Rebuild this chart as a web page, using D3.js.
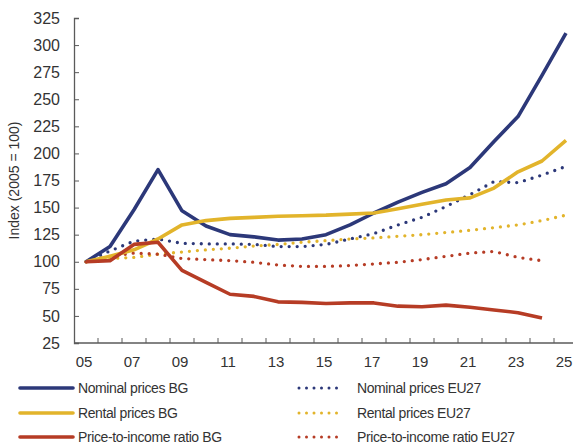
<!DOCTYPE html>
<html>
<head>
<meta charset="utf-8">
<script src="https://cdn.jsdelivr.net/npm/d3@7"></script>
<style>
  body { margin: 0; background: #fff; }
  svg { display: block; font-family: "Liberation Sans", Arial, sans-serif; }
</style>
</head>
<body>
<div id="chart"></div>
<script>
// data (index, 2005 = 100)
var years = d3.range(2005, 2026);
var tickYears = [2005, 2007, 2009, 2011, 2013, 2015, 2017, 2019, 2021, 2023, 2025];
var yTicks = [25, 50, 75, 100, 125, 150, 175, 200, 225, 250, 275, 300, 325];

var nominalBG = [100, 114, 148, 185, 147, 133, 125, 123, 120, 121, 125, 134, 145, 155, 164, 172, 187, 211, 234, 272, 311];
var rentalBG = [100, 105, 111, 121, 134, 138, 140, 141, 142, 142.5, 143, 144, 145, 149, 153, 157, 159, 168, 183, 193, 212];
var ptiBG = [100, 101, 116, 118, 92, 81, 70, 68, 63, 62.5, 61.5, 62, 62, 59, 58.5, 60, 58, 55.5, 53, 48];
var nominalEU = [100, 110, 119, 121, 117, 116.5, 116.5, 116, 114, 114, 116, 121, 126, 134, 141, 151, 162, 174, 173, 180, 188];
var rentalEU = [100, 103, 104, 107, 109, 111, 112.5, 114.5, 116, 118, 119.5, 121, 122, 123.5, 125, 127, 129, 131.5, 134, 138, 143];
var ptiEU = [100, 105, 108, 107, 103, 102, 101, 99.5, 97, 95.7, 95.7, 96.5, 98, 99.5, 102, 105, 108, 109.5, 104, 101];

var navy = "#2c3879", gold = "#e2b42b", red = "#b63c25";

var series = [
  { name: "Nominal prices BG", values: nominalBG, color: navy, dotted: false },
  { name: "Rental prices BG", values: rentalBG, color: gold, dotted: false },
  { name: "Price-to-income ratio BG", values: ptiBG, color: red, dotted: false },
  { name: "Nominal prices EU27", values: nominalEU, color: navy, dotted: true },
  { name: "Rental prices EU27", values: rentalEU, color: gold, dotted: true },
  { name: "Price-to-income ratio EU27", values: ptiEU, color: red, dotted: true }
];

var width = 573, height = 448;
var axisColor = "#5a5a5a", textColor = "#333";

var svg = d3.select("#chart").append("svg")
    .attr("width", width)
    .attr("height", height);

// category axis, points sit in the middle of each band
var x = d3.scaleBand().domain(years).range([74, 578]).padding(0);
var y = d3.scaleLinear().domain([25, 325]).range([343, 18]);
var cx = function (yr) { return x(yr) + x.bandwidth() / 2; };

// y axis
var yAxis = svg.append("g")
    .attr("transform", "translate(74,0)")
    .call(d3.axisRight(y).tickValues(yTicks).tickSize(5).tickFormat(d3.format("d")));
yAxis.select(".domain").attr("stroke", axisColor).attr("stroke-width", 1.3);
yAxis.selectAll(".tick line").attr("stroke", axisColor);
yAxis.selectAll(".tick text")
    .attr("x", -14)
    .attr("text-anchor", "end")
    .attr("fill", textColor)
    .style("font-size", "16px");

// x axis line and boundary ticks (pointing up)
svg.append("line")
    .attr("x1", 74).attr("x2", 578)
    .attr("y1", y(25)).attr("y2", y(25))
    .attr("stroke", axisColor).attr("stroke-width", 1.3);
svg.selectAll(".xtick")
    .data(years.slice(1))
    .enter().append("line")
    .attr("class", "xtick")
    .attr("x1", function (d) { return x(d); })
    .attr("x2", function (d) { return x(d); })
    .attr("y1", y(25)).attr("y2", y(25) - 5)
    .attr("stroke", axisColor);

var xAxis = svg.append("g")
    .attr("transform", "translate(0," + y(25) + ")")
    .call(d3.axisBottom(x).tickValues(tickYears).tickSize(0)
        .tickFormat(function (d) { return String(d).slice(2); }));
xAxis.select(".domain").remove();
xAxis.selectAll(".tick text")
    .attr("dy", "1.4em")
    .attr("dx", -2)
    .attr("fill", textColor)
    .style("font-size", "15px");

// y axis title
svg.append("text")
    .attr("transform", "translate(19," + (y(175)) + ") rotate(-90)")
    .attr("text-anchor", "middle")
    .attr("fill", textColor)
    .style("font-size", "14px")
    .text("Index (2005 = 100)");

var line = d3.line()
    .x(function (d, i) { return cx(years[i]); })
    .y(function (d) { return y(d); });

// dotted first so solid lines sit on top
var order = series.filter(function (s) { return s.dotted; })
    .concat(series.filter(function (s) { return !s.dotted; }));

svg.selectAll(".series")
    .data(order)
    .enter().append("path")
    .attr("class", "series")
    .attr("d", function (s) { return line(s.values); })
    .attr("fill", "none")
    .attr("stroke", function (s) { return s.color; })
    .attr("stroke-width", function (s) { return s.dotted ? 3.3 : 3.6; })
    .attr("stroke-linecap", function (s) { return s.dotted ? "round" : "butt"; })
    .attr("stroke-linejoin", "round")
    .attr("stroke-dasharray", function (s) { return s.dotted ? "0,8" : null; });

// legend
var legendRows = [388, 413, 437];
var legend = svg.selectAll(".legend")
    .data(series)
    .enter().append("g")
    .attr("class", "legend")
    .attr("transform", function (s, i) {
        var col = s.dotted ? 1 : 0;
        return "translate(" + (col ? 298 : 20) + "," + legendRows[i % 3] + ")";
    });

legend.append("line")
    .attr("x1", function (s) { return s.dotted ? 1 : 0; })
    .attr("x2", function (s) { return s.dotted ? 46 : 53; })
    .attr("stroke", function (s) { return s.color; })
    .attr("stroke-width", function (s) { return s.dotted ? 3 : 3.6; })
    .attr("stroke-linecap", "round")
    .attr("stroke-dasharray", function (s) { return s.dotted ? "0,7.5" : null; });

legend.append("text")
    .attr("x", function (s) { return s.dotted ? 59 : 58; })
    .attr("dy", "0.35em")
    .attr("fill", textColor)
    .style("font-size", "14px")
    .style("letter-spacing", "-0.4px")
    .text(function (s) { return s.name; });
</script>
</body>
</html>
